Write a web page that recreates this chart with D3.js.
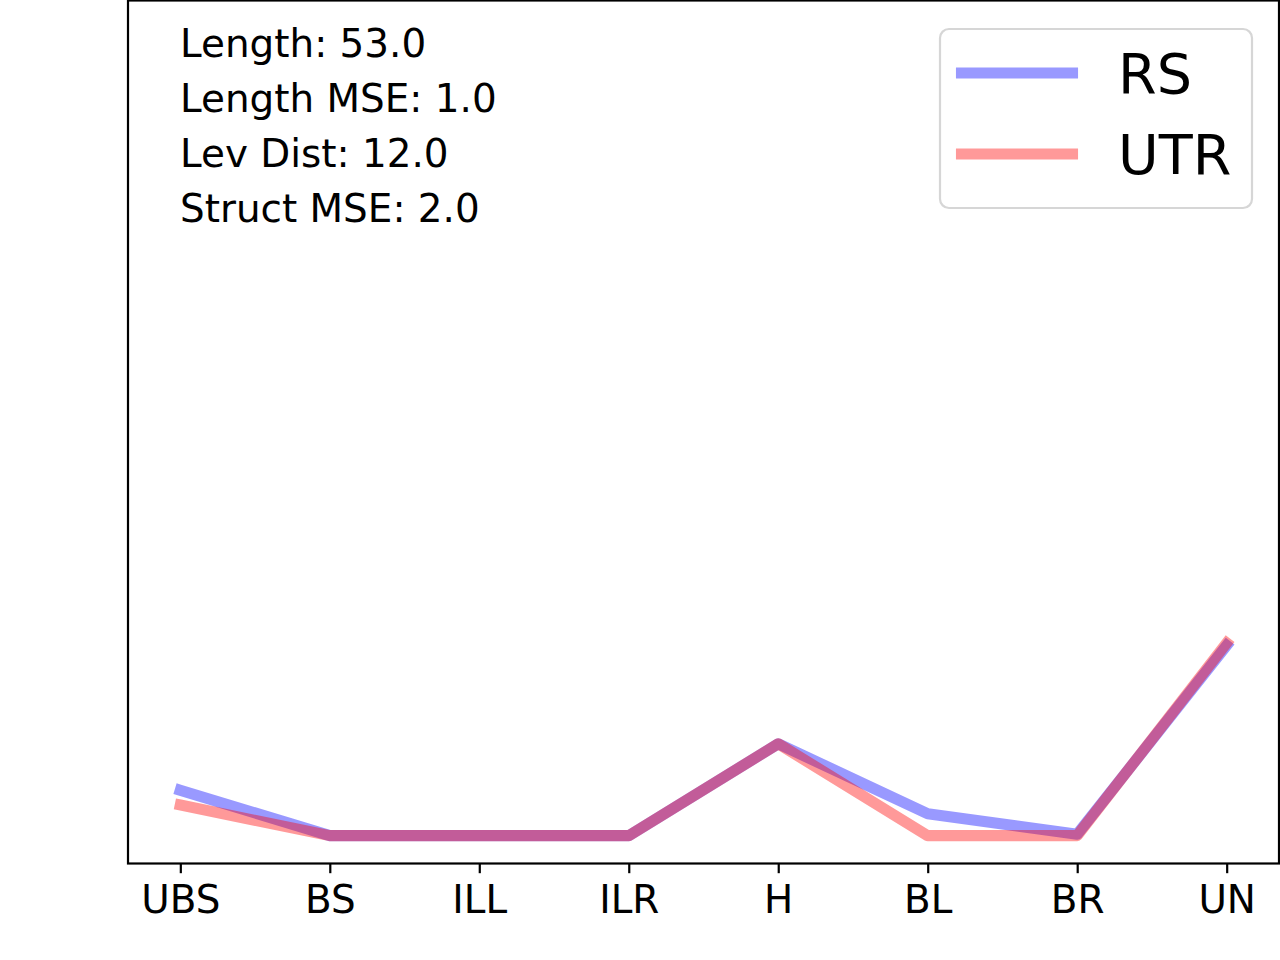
<!DOCTYPE html>
<html>
<head>
<meta charset="utf-8">
<script src="https://cdn.jsdelivr.net/npm/d3@7"></script>
<style>
  body { margin: 0; background: #fff; }
  svg { display: block; font-family: "DejaVu Sans", sans-serif; }
</style>
</head>
<body>
<svg width="1280" height="960"></svg>
<script>
// categories along the x axis
var categories = ['UBS', 'BS', 'ILL', 'ILR', 'H', 'BL', 'BR', 'UN'];

// series values
var rsValues = [0.163, 0, 0, 0, 0.33, 0.079, 0.005, 0.683];
var utrValues = [0.11, 0, 0, 0, 0.33, 0, 0, 0.692];

var seriesNames = ['RS', 'UTR'];
var seriesColors = ['#0000ff', '#ff0000'];

var statLines = [
  'Length: 53.0',
  'Length MSE: 1.0',
  'Lev Dist: 12.0',
  'Struct MSE: 2.0'
];

var svg = d3.select('svg');

// plot area (window.top is read-only, so use other names)
var plotLeft = 128, plotRight = 1279, plotTop = 0.5, plotBottom = 863.5;

var x = d3.scaleLinear()
  .domain([-0.35, categories.length - 1 + 0.35])
  .range([plotLeft, plotRight]);

var y = d3.scaleLinear()
  .domain([-0.1, 3.0])
  .range([plotBottom, plotTop]);

var line = d3.line()
  .x(function(d, i) { return x(i); })
  .y(function(d) { return y(d); });

var series = [rsValues, utrValues];

// lines, blue first so red sits on top
svg.append('g')
  .selectAll('path')
  .data(series)
  .enter().append('path')
  .attr('d', function(d) { return line(d); })
  .attr('fill', 'none')
  .attr('stroke', function(d, i) { return seriesColors[i]; })
  .attr('stroke-opacity', 0.4)
  .attr('stroke-width', 11.1)
  .attr('stroke-linejoin', 'round')
  .attr('stroke-linecap', 'square');

// x axis
var xAxis = d3.axisBottom(x)
  .tickValues(d3.range(categories.length))
  .tickFormat(function(i) { return categories[i]; })
  .tickSize(9.7)
  .tickSizeOuter(0)
  .tickPadding(12);

var gx = svg.append('g')
  .attr('transform', 'translate(0,' + plotBottom + ')')
  .call(xAxis);
gx.select('.domain').remove();
gx.selectAll('.tick line').attr('stroke', '#000').attr('stroke-width', 2.2);
gx.selectAll('.tick text')
  .attr('fill', '#000')
  .style('font-size', '38.9px')
  .style('font-family', '"DejaVu Sans", sans-serif');

// frame
svg.append('rect')
  .attr('x', plotLeft)
  .attr('y', plotTop)
  .attr('width', plotRight - plotLeft)
  .attr('height', plotBottom - plotTop)
  .attr('fill', 'none')
  .attr('stroke', '#000')
  .attr('stroke-width', 2.2);

// stats text
svg.append('g')
  .selectAll('text')
  .data(statLines)
  .enter().append('text')
  .attr('x', 180)
  .attr('y', function(d, i) { return 57 + i * 55; })
  .style('font-size', '38.9px')
  .attr('fill', '#000')
  .text(function(d) { return d; });

// legend
var legend = svg.append('g');
legend.append('rect')
  .attr('x', 940)
  .attr('y', 29)
  .attr('width', 312)
  .attr('height', 179)
  .attr('rx', 9)
  .attr('fill', '#fff')
  .attr('fill-opacity', 0.8)
  .attr('stroke', '#d6d6d6')
  .attr('stroke-width', 2.2);

var items = legend.selectAll('g.item')
  .data(seriesNames)
  .enter().append('g')
  .attr('class', 'item')
  .attr('transform', function(d, i) { return 'translate(0,' + (73 + i * 81) + ')'; });

items.append('line')
  .attr('x1', 961.5)
  .attr('x2', 1072.5)
  .attr('stroke', function(d, i) { return seriesColors[i]; })
  .attr('stroke-opacity', 0.4)
  .attr('stroke-width', 11.1)
  .attr('stroke-linecap', 'square');

items.append('text')
  .attr('x', 1118)
  .attr('y', 20)
  .style('font-size', '55.6px')
  .attr('fill', '#000')
  .text(function(d) { return d; });
</script>
</body>
</html>
